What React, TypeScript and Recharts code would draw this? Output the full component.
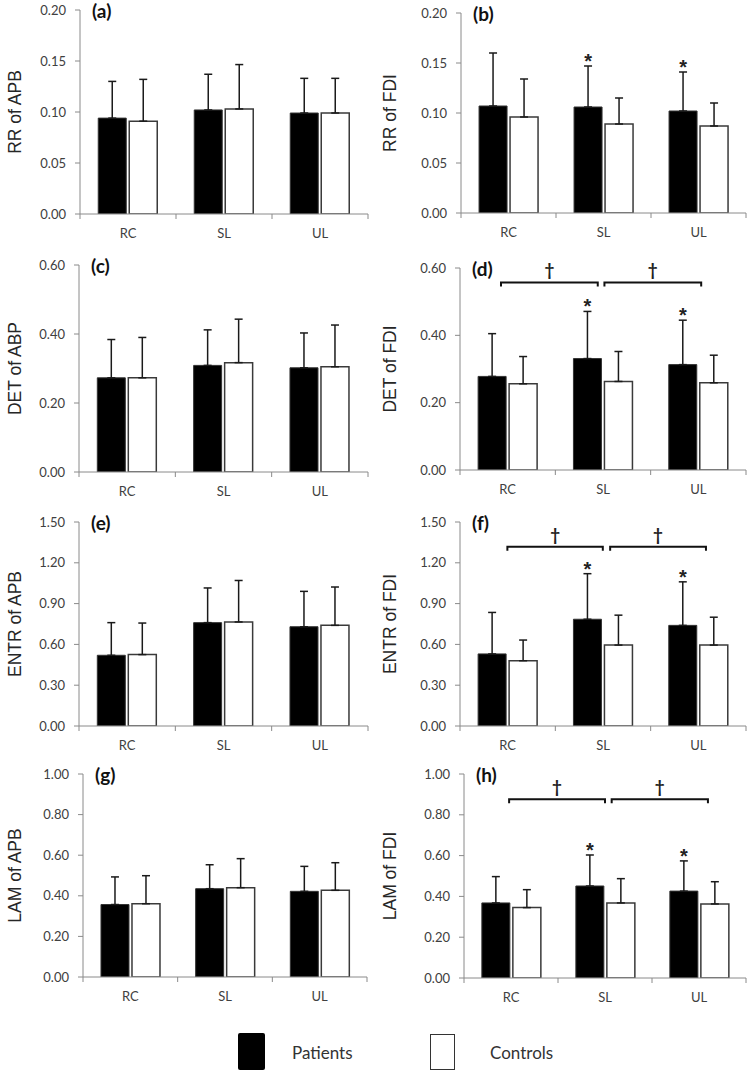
import React from 'react';
import { BarChart, Bar, XAxis, YAxis, ErrorBar, LabelList, ReferenceLine } from 'recharts';

// ---------- data ----------
const categories = ['RC', 'SL', 'UL'];

const rrTicks = [0, 0.05, 0.1, 0.15, 0.2];
const detTicks = [0, 0.2, 0.4, 0.6];
const entrTicks = [0, 0.3, 0.6, 0.9, 1.2, 1.5];
const lamTicks = [0, 0.2, 0.4, 0.6, 0.8, 1.0];

const rrApbPatients = [0.094, 0.102, 0.099];
const rrApbPatientsSd = [0.036, 0.035, 0.034];
const rrApbControls = [0.091, 0.103, 0.099];
const rrApbControlsSd = [0.041, 0.0435, 0.034];

const rrFdiPatients = [0.107, 0.106, 0.102];
const rrFdiPatientsSd = [0.053, 0.041, 0.039];
const rrFdiControls = [0.096, 0.089, 0.087];
const rrFdiControlsSd = [0.038, 0.026, 0.023];

const detApbPatients = [0.273, 0.309, 0.302];
const detApbPatientsSd = [0.111, 0.103, 0.101];
const detApbControls = [0.273, 0.317, 0.305];
const detApbControlsSd = [0.117, 0.126, 0.121];

const detFdiPatients = [0.278, 0.331, 0.313];
const detFdiPatientsSd = [0.127, 0.14, 0.132];
const detFdiControls = [0.256, 0.263, 0.259];
const detFdiControlsSd = [0.081, 0.089, 0.082];

const entrApbPatients = [0.52, 0.76, 0.73];
const entrApbPatientsSd = [0.24, 0.255, 0.26];
const entrApbControls = [0.525, 0.765, 0.74];
const entrApbControlsSd = [0.232, 0.305, 0.282];

const entrFdiPatients = [0.53, 0.785, 0.74];
const entrFdiPatientsSd = [0.305, 0.335, 0.32];
const entrFdiControls = [0.48, 0.595, 0.595];
const entrFdiControlsSd = [0.152, 0.22, 0.205];

const lamApbPatients = [0.357, 0.435, 0.422];
const lamApbPatientsSd = [0.136, 0.118, 0.123];
const lamApbControls = [0.361, 0.44, 0.427];
const lamApbControlsSd = [0.138, 0.143, 0.136];

const lamFdiPatients = [0.368, 0.451, 0.426];
const lamFdiPatientsSd = [0.129, 0.152, 0.148];
const lamFdiControls = [0.345, 0.368, 0.363];
const lamFdiControlsSd = [0.088, 0.119, 0.109];

// significance (*) of patients vs controls per category
const noSig = [false, false, false];
const fdiSig = [false, true, true];

// brackets (†): between two categories, with small shifts in band units, at value y
type Bracket = { from: string; to: string; fromShift: number; toShift: number; y: number };
const detFdiBrackets: Bracket[] = [
  { from: 'RC', to: 'SL', fromShift: -0.07, toShift: -0.055, y: 0.557 },
  { from: 'SL', to: 'UL', fromShift: 0.015, toShift: 0.03, y: 0.557 },
];
const entrFdiBrackets: Bracket[] = [
  { from: 'RC', to: 'SL', fromShift: -0.003, toShift: -0.002, y: 1.318 },
  { from: 'SL', to: 'UL', fromShift: 0.075, toShift: 0.08, y: 1.318 },
];
const lamFdiBrackets: Bracket[] = [
  { from: 'RC', to: 'SL', fromShift: -0.02, toShift: 0.0, y: 0.876 },
  { from: 'SL', to: 'UL', fromShift: 0.071, toShift: 0.095, y: 0.876 },
];

const legendLabels = ['Patients', 'Controls'];

// ---------- styles ----------
const AXIS = '#8a8a8a';
const TEXT = '#404040';
const TICK_FONT = 'Lato, "Open Sans", sans-serif';
const TITLE_FONT = '"Liberation Sans", Arial, sans-serif';

type Layout = { left: number; plotLeft: number; plotRight: number; plotTop: number; plotBottom: number };

type PanelCfg = {
  tag: string;
  title: string;
  ticks: number[];
  patients: number[];
  patientsSd: number[];
  controls: number[];
  controlsSd: number[];
  sig: boolean[];
  brackets: Bracket[];
  layout: Layout;
};

const panels: PanelCfg[] = [
  { tag: '(a)', title: 'RR of APB', ticks: rrTicks, patients: rrApbPatients, patientsSd: rrApbPatientsSd, controls: rrApbControls, controlsSd: rrApbControlsSd, sig: noSig, brackets: [], layout: { left: 0, plotLeft: 80, plotRight: 368, plotTop: 10, plotBottom: 214 } },
  { tag: '(b)', title: 'RR of FDI', ticks: rrTicks, patients: rrFdiPatients, patientsSd: rrFdiPatientsSd, controls: rrFdiControls, controlsSd: rrFdiControlsSd, sig: fdiSig, brackets: [], layout: { left: 375, plotLeft: 461, plotRight: 746, plotTop: 13, plotBottom: 213 } },
  { tag: '(c)', title: 'DET of ABP', ticks: detTicks, patients: detApbPatients, patientsSd: detApbPatientsSd, controls: detApbControls, controlsSd: detApbControlsSd, sig: noSig, brackets: [], layout: { left: 0, plotLeft: 79, plotRight: 368, plotTop: 265, plotBottom: 472 } },
  { tag: '(d)', title: 'DET of FDI', ticks: detTicks, patients: detFdiPatients, patientsSd: detFdiPatientsSd, controls: detFdiControls, controlsSd: detFdiControlsSd, sig: fdiSig, brackets: detFdiBrackets, layout: { left: 375, plotLeft: 460, plotRight: 746, plotTop: 268, plotBottom: 470 } },
  { tag: '(e)', title: 'ENTR of APB', ticks: entrTicks, patients: entrApbPatients, patientsSd: entrApbPatientsSd, controls: entrApbControls, controlsSd: entrApbControlsSd, sig: noSig, brackets: [], layout: { left: 0, plotLeft: 79, plotRight: 368, plotTop: 522, plotBottom: 726 } },
  { tag: '(f)', title: 'ENTR of FDI', ticks: entrTicks, patients: entrFdiPatients, patientsSd: entrFdiPatientsSd, controls: entrFdiControls, controlsSd: entrFdiControlsSd, sig: fdiSig, brackets: entrFdiBrackets, layout: { left: 375, plotLeft: 460, plotRight: 746, plotTop: 522, plotBottom: 726 } },
  { tag: '(g)', title: 'LAM of APB', ticks: lamTicks, patients: lamApbPatients, patientsSd: lamApbPatientsSd, controls: lamApbControls, controlsSd: lamApbControlsSd, sig: noSig, brackets: [], layout: { left: 0, plotLeft: 83, plotRight: 367, plotTop: 774, plotBottom: 977 } },
  { tag: '(h)', title: 'LAM of FDI', ticks: lamTicks, patients: lamFdiPatients, patientsSd: lamFdiPatientsSd, controls: lamFdiControls, controlsSd: lamFdiControlsSd, sig: fdiSig, brackets: lamFdiBrackets, layout: { left: 375, plotLeft: 464, plotRight: 746, plotTop: 774, plotBottom: 978 } },
];

function Panel({ cfg }: { cfg: PanelCfg }) {
  const { left, plotLeft, plotRight, plotTop, plotBottom } = cfg.layout;
  const top = plotTop - 10;
  const width = 375;
  const height = plotBottom - plotTop + 40;
  const band = (plotRight - plotLeft) / categories.length;
  const yMax = cfg.ticks[cfg.ticks.length - 1];

  const data = categories.map((c, i) => ({
    cat: c,
    patients: cfg.patients[i],
    controls: cfg.controls[i],
    patientsErr: [0, cfg.patientsSd[i]],
    controlsErr: [0, cfg.controlsSd[i]],
  }));

  const XTick = (props: any) => {
    const { x, y, payload, index } = props;
    return (
      <g>
        {index === 0 && <line x1={x - band / 2} y1={y} x2={x - band / 2} y2={y + 5} stroke={AXIS} />}
        <line x1={x + band / 2} y1={y} x2={x + band / 2} y2={y + 5} stroke={AXIS} />
        <text x={x} y={y + 19} textAnchor="middle" dominantBaseline="central" fontFamily={TICK_FONT} fontSize={13} fill={TEXT}>
          {payload.value}
        </text>
      </g>
    );
  };

  const starContent = (props: any) => {
    const index = props.index;
    if (index == null || !cfg.sig[index]) return null;
    const vb = props.viewBox || props;
    const { x, y, width: w, height: h } = vb;
    const v = cfg.patients[index];
    const errTop = y - (cfg.patientsSd[index] * h) / v;
    return (
      <text x={x + w / 2} y={errTop + 2} textAnchor="middle" fontFamily={TITLE_FONT} fontWeight={700} fontSize={20} fill="#222">
        *
      </text>
    );
  };

  const titleContent = (props: any) => {
    const vb = props.viewBox;
    const cx = vb.x + 15;
    const cy = vb.y + vb.height / 2;
    return (
      <text x={cx} y={cy} transform={`rotate(-90 ${cx} ${cy})`} textAnchor="middle" dominantBaseline="central" fontFamily={TITLE_FONT} fontSize={17.5} fill="#262626">
        {cfg.title}
      </text>
    );
  };

  const makeBracketShape = (b: Bracket) => (p: any) => {
    const { x1, y1, x2 } = p;
    const bw = x2 - x1;
    const xa = x1 + b.fromShift * bw;
    const xb = x2 + b.toShift * bw;
    const xm = (xa + xb) / 2;
    return (
      <g>
        <path d={`M${xa},${y1 + 4}V${y1}H${xb}V${y1 + 4}`} fill="none" stroke="#111" strokeWidth={2} />
        <text x={xm} y={y1 - 6} textAnchor="middle" fontFamily={TICK_FONT} fontWeight={700} fontSize={17} fill="#222">
          †
        </text>
      </g>
    );
  };

  return (
    <div style={{ position: 'absolute', left, top, width, height }}>
      <BarChart
        width={width}
        height={height}
        data={data}
        margin={{ top: 10, right: left + width - plotRight, bottom: 0, left: 0 }}
        barCategoryGap="19%"
        barGap={3}
      >
        <XAxis
          dataKey="cat"
          height={30}
          axisLine={{ stroke: AXIS }}
          tickLine={false}
          tickSize={0}
          tickMargin={0}
          tick={XTick}
          interval={0}
        />
        <YAxis
          width={plotLeft - left}
          domain={[0, yMax]}
          ticks={cfg.ticks}
          interval={0}
          allowDataOverflow
          axisLine={{ stroke: AXIS }}
          tickLine={{ stroke: AXIS }}
          tickSize={5}
          tickMargin={9}
          tick={{ fontFamily: TICK_FONT, fontSize: 13, fill: TEXT }}
          tickFormatter={(v: number) => v.toFixed(2)}
          label={{ content: titleContent } as any}
        />
        <Bar dataKey="patients" fill="#000" stroke="#333" strokeWidth={1} isAnimationActive={false}>
          <ErrorBar dataKey="patientsErr" width={4} stroke="#1a1a1a" strokeWidth={1.5} direction="y" />
          <LabelList dataKey="patients" content={starContent} />
        </Bar>
        <Bar dataKey="controls" fill="#fff" stroke="#3a3a3a" strokeWidth={1.5} isAnimationActive={false}>
          <ErrorBar dataKey="controlsErr" width={4} stroke="#1a1a1a" strokeWidth={1.5} direction="y" />
        </Bar>
        {cfg.brackets.map((b, i) => (
          <ReferenceLine
            key={i}
            segment={[{ x: b.from, y: b.y }, { x: b.to, y: b.y }]}
            ifOverflow="visible"
            shape={makeBracketShape(b)}
          />
        ))}
      </BarChart>
      <div
        style={{
          position: 'absolute',
          left: plotLeft - left + 12,
          top: 0,
          fontFamily: TICK_FONT,
          fontWeight: 700,
          fontSize: 19,
          color: '#111',
          lineHeight: '22px',
        }}
      >
        {cfg.tag}
      </div>
    </div>
  );
}

export default function App() {
  return (
    <div style={{ position: 'absolute', left: 0, top: 0, width: 750, height: 1075, background: '#fff', overflow: 'hidden' }}>
      {panels.map((p) => (
        <Panel key={p.tag} cfg={p} />
      ))}
      <div style={{ position: 'absolute', left: 238, top: 1033, width: 27, height: 37, background: '#000', borderRadius: 2 }} />
      <div style={{ position: 'absolute', left: 292, top: 1042, fontFamily: TICK_FONT, fontSize: 17, color: '#333', lineHeight: '22px' }}>
        {legendLabels[0]}
      </div>
      <div style={{ position: 'absolute', left: 430, top: 1034, width: 23, height: 34, background: '#fff', border: '1.5px solid #333' }} />
      <div style={{ position: 'absolute', left: 490, top: 1042, fontFamily: TICK_FONT, fontSize: 17, color: '#333', lineHeight: '22px' }}>
        {legendLabels[1]}
      </div>
    </div>
  );
}
